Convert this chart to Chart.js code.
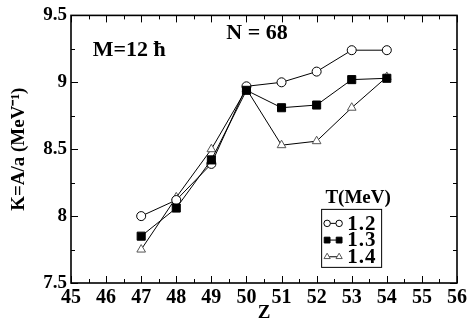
<!DOCTYPE html>
<html lang="en">
<head>
  <meta charset="UTF-8">
  <title>K = A/a vs Z</title>
  <style>
    body { margin: 0; background: #fff; }
  </style>
</head>
<body>
<div>
  <canvas id="chart" width="470" height="324"></canvas>
</div>

<script src="https://cdn.jsdelivr.net/npm/chart.js"></script>

<script>
  const zValues = [47, 48, 49, 50, 51, 52, 53, 54];
  const kT12 = [8.00, 8.12, 8.39, 8.97, 9.00, 9.08, 9.24, 9.24];
  const kT13 = [7.85, 8.06, 8.42, 8.94, 8.81, 8.83, 9.02, 9.03];
  const kT14 = [7.75, 8.14, 8.50, 8.95, 8.53, 8.56, 8.81, 9.04];
  const seriesLabels = ['1.2', '1.3', '1.4'];
  const xRange = [45, 56];
  const yRange = [7.5, 9.5];

  const font = 'Liberation Serif';
  const toPoints = (ys) => zValues.map((z, i) => ({ x: z, y: ys[i] }));

  const datasets = [
    {
      label: seriesLabels[0],
      data: toPoints(kT12),
      pointStyle: 'circle',
      pointRadius: 4.5,
      pointBackgroundColor: '#fff',
      pointBorderColor: '#000',
      order: 1
    },
    {
      label: seriesLabels[1],
      data: toPoints(kT13),
      pointStyle: 'rect',
      pointRadius: 5.7,
      pointBackgroundColor: '#000',
      pointBorderColor: '#000',
      order: 0
    },
    {
      label: seriesLabels[2],
      data: toPoints(kT14),
      pointStyle: 'triangle',
      pointRadius: 5,
      pointBackgroundColor: '#fff',
      pointBorderColor: '#555',
      order: 2
    }
  ].map(ds => ({
    ...ds,
    borderColor: '#000',
    borderWidth: 1,
    pointBorderWidth: 1,
    pointHoverRadius: ds.pointRadius,
    fill: false,
    tension: 0
  }));

  // inward ticks on all four sides + frame + text notes
  const frame = {
    id: 'frame',
    afterDraw(chart) {
      const { ctx, chartArea: a, scales: { x, y } } = chart;
      ctx.save();
      ctx.strokeStyle = '#000';
      ctx.lineWidth = 1;
      ctx.beginPath();
      for (let v = xRange[0]; v <= xRange[1]; v += 0.5) {
        const px = Math.round(x.getPixelForValue(v)) + 0.5;
        const len = Number.isInteger(v) ? 7 : 4;
        ctx.moveTo(px, a.bottom); ctx.lineTo(px, a.bottom - len);
        ctx.moveTo(px, a.top); ctx.lineTo(px, a.top + len);
      }
      for (let v = yRange[0]; v <= yRange[1] + 1e-9; v += 0.25) {
        const py = Math.round(y.getPixelForValue(v)) + 0.5;
        const len = Math.abs(v * 2 - Math.round(v * 2)) < 1e-9 ? 7 : 4;
        ctx.moveTo(a.left, py); ctx.lineTo(a.left + len, py);
        ctx.moveTo(a.right, py); ctx.lineTo(a.right - len, py);
      }
      ctx.stroke();
      ctx.lineWidth = 1.6;
      ctx.strokeRect(a.left, a.top, a.right - a.left, a.bottom - a.top);

      ctx.fillStyle = '#000';
      ctx.font = `bold 22px "${font}"`;
      ctx.textAlign = 'left';
      ctx.textBaseline = 'alphabetic';
      ctx.fillText('M=12 \u0127', x.getPixelForValue(45.62), y.getPixelForValue(9.2));
      ctx.textAlign = 'center';
      ctx.textBaseline = 'middle';
      ctx.fillText('N = 68', x.getPixelForValue(50.3), y.getPixelForValue(9.365));
      ctx.restore();
    }
  };

  // boxed legend inside the plot
  const boxLegend = {
    id: 'boxLegend',
    afterDraw(chart) {
      const { ctx, chartArea: a } = chart;
      const w = a.right - a.left, h = a.bottom - a.top;
      const left = a.left + w * 0.648;
      const top = a.top + h * 0.723;
      const bw = 60, bh = 58, rowH = 16.7;
      ctx.save();
      ctx.fillStyle = '#000';
      ctx.font = `bold 19px "${font}"`;
      ctx.textAlign = 'center';
      ctx.textBaseline = 'middle';
      ctx.fillText('T(MeV)', left + 37, top - 11);
      ctx.lineWidth = 1;
      ctx.strokeStyle = '#000';
      ctx.strokeRect(left + 0.5, top + 0.5, bw, bh);
      chart.data.datasets.forEach((ds, i) => {
        const cy = top + 14.5 + i * rowH;
        const x1 = left + 6, x2 = left + 18;
        ctx.strokeStyle = '#000';
        ctx.lineWidth = 1;
        ctx.beginPath();
        ctx.moveTo(x1, cy); ctx.lineTo(x2, cy);
        ctx.stroke();
        const style = {
          pointStyle: ds.pointStyle,
          radius: ds.pointRadius * 0.72,
          borderWidth: 1
        };
        ctx.fillStyle = ds.pointBackgroundColor;
        ctx.strokeStyle = ds.pointBorderColor;
        Chart.helpers.drawPoint(ctx, style, x1, cy);
        Chart.helpers.drawPoint(ctx, style, x2, cy);
        ctx.fillStyle = '#000';
        ctx.font = `bold 21px "${font}"`;
        ctx.letterSpacing = '1px';
        ctx.textAlign = 'left';
        ctx.fillText(ds.label, left + 26, cy + 1);
        ctx.letterSpacing = '0px';
      });
      ctx.restore();
    }
  };

  new Chart(document.getElementById('chart'), {
    type: 'line',
    data: { datasets },
    options: {
      responsive: false,
      animation: false,
      layout: { padding: { top: 12, right: 10, left: 0, bottom: 0 } },
      plugins: {
        legend: { display: false },
        tooltip: { enabled: false }
      },
      scales: {
        x: {
          type: 'linear',
          min: xRange[0],
          max: xRange[1],
          grid: { display: false, drawTicks: false },
          border: { display: false },
          ticks: {
            stepSize: 1,
            padding: 3,
            color: '#000',
            font: { family: font, size: 20, weight: 'bold' }
          },
          title: {
            display: true,
            text: 'Z',
            color: '#000',
            padding: { top: 0, bottom: 0 },
            font: { family: font, size: 19, weight: 'bold' }
          },
          afterFit(scale) { scale.height = 41; }
        },
        y: {
          min: yRange[0],
          max: yRange[1],
          grid: { display: false, drawTicks: false },
          border: { display: false },
          ticks: {
            stepSize: 0.5,
            padding: 4,
            color: '#000',
            font: { family: font, size: 19, weight: 'bold' },
            callback: (v) => String(v)
          },
          title: {
            display: true,
            text: 'K=A/a (MeV\u207B\u00B9)',
            color: '#000',
            padding: { top: 8, bottom: 0 },
            font: { family: font, size: 19, weight: 'bold' }
          },
          afterFit(scale) { scale.width = 71; }
        }
      }
    },
    plugins: [frame, boxLegend]
  });
</script>
</body>
</html>
